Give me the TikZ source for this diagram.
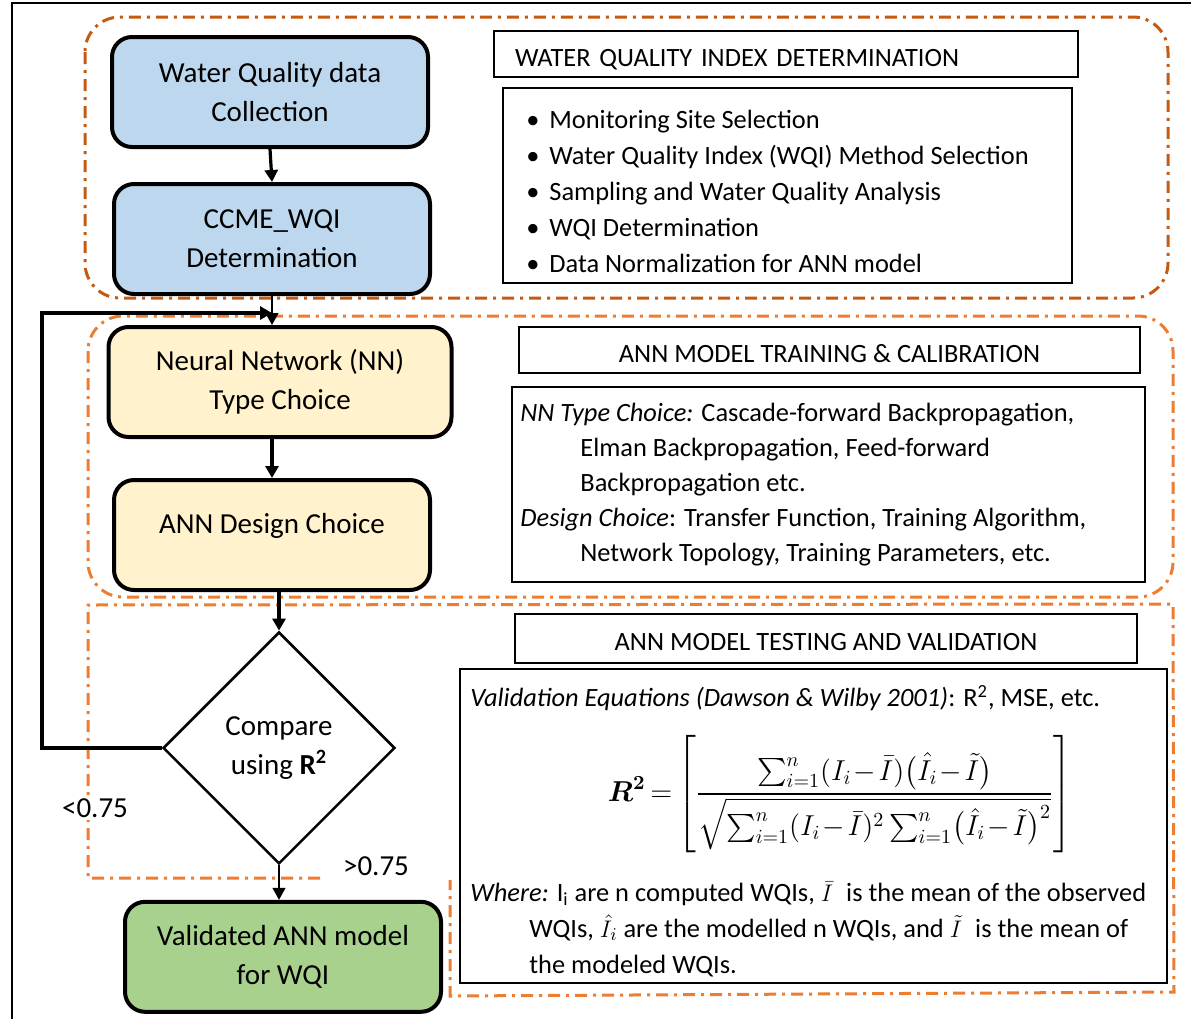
\documentclass[tikz,border=0pt]{standalone}
\usepackage{amsmath,amssymb}
\usepackage{fontspec}
\setmainfont{Carlito}
\usepackage{tikz}
\usetikzlibrary{shapes.geometric,arrows.meta,positioning}

\definecolor{wqiorange}{HTML}{C55A11}
\definecolor{annorange}{HTML}{ED7D31}
\definecolor{wqiblue}{HTML}{BDD7EE}
\definecolor{annyellow}{HTML}{FFF2CC}
\definecolor{valgreen}{HTML}{A9D18E}

\begin{document}
\begin{tikzpicture}[x=0.5pt, y=-0.5pt, >={Triangle[length=6pt,width=6.5pt]},
    flowbox/.style={draw, line width=2pt, rounded corners=10pt, align=center,
                    minimum width=158pt, minimum height=55pt,
                    font=\fontsize{14.5}{19.5}\selectfont},
    headbox/.style={draw, line width=1pt, minimum height=23pt, text height=12pt, text depth=0pt,
                    font=\fontsize{13.2}{15}\selectfont},
    textbox/.style={draw, line width=0.8pt},
    body/.style={align=left, inner sep=0pt, font=\fontsize{13.2}{18}\selectfont},
    region/.style={line width=1.5pt, dash pattern=on 6pt off 3pt on 1.5pt off 3pt},
    flowarrow/.style={->, line width=1.6pt},
    thinarrow/.style={->, line width=0.6pt},
    cutoff/.style={fill=white, inner sep=1pt, font=\fontsize{14.5}{16}\selectfont}
  ]
  \useasboundingbox (0,0) rectangle (1191,1019);

  %--- Outer frame
  \draw[line width=1pt] (12,3) rectangle (1205,1030);

  %--- Stage regions
  \draw[region, wqiorange, rounded corners=17.5pt] (85,17) rectangle (1168,298);
  \draw[region, annorange, rounded corners=17.5pt] (88,316) rectangle (1173,597);
  \draw[region, annorange] (320,878) -- (88,878) -- (88,605) -- (1173,604)
    -- (1174,992) -- (450,996) -- (450,880);

  %--- Flow chart
  \node[flowbox, fill=wqiblue] (collect) at (270,92) {Water Quality data\\Collection};
  \node[flowbox, fill=wqiblue, below=16.5pt of collect, xshift=1pt] (ccme)
    {CCME\_WQI\\Determination};
  \node[flowbox, fill=annyellow, minimum width=171.5pt, below=14.5pt of ccme, xshift=4pt] (nntype)
    {Neural Network (NN)\\Type Choice};
  \node[flowbox, fill=annyellow, below=19.5pt of nntype, xshift=-4pt] (design)
    {ANN Design Choice\\[-8pt]};
  \node[draw, diamond, line width=1.3pt, minimum width=116pt, minimum height=116pt,
        inner sep=0pt, align=center, font=\fontsize{14.5}{19.5}\selectfont,
        below=19.3pt of design, xshift=3.5pt] (compare)
    {Compare\\using \textbf{R\textsuperscript{2}}};
  \node[flowbox, fill=valgreen, below=17.3pt of compare, xshift=2pt] (valid)
    {Validated ANN model\\for WQI};

  \coordinate (loop) at (42,313);
  \coordinate (join) at (ccme.south |- loop);

  \draw[flowarrow] (collect.south) -- (ccme.north);
  \draw[thinarrow] (ccme.south) -- (ccme.south |- nntype.north);
  \draw[flowarrow] (compare.west) -| (loop) -- (join);
  \draw[flowarrow] (design.north |- nntype.south) -- (design.north);
  \draw[flowarrow] (compare.north |- design.south) -- (compare.north);
  \draw[thinarrow] (compare.south) -- (compare.south |- valid.north);

  \node[cutoff] (low) at (95,808) {<0.75};
  \node[cutoff] (high) at (376,866) {>0.75};

  %--- Water quality index determination
  \node[headbox, minimum width=292pt, text width=271pt, inner xsep=10.5pt, align=left]
    (wqihead) at (786,54) {WATER QUALITY INDEX DETERMINATION};
  \node[textbox, minimum width=284.5pt, minimum height=97.5pt] (wqibox) at (787.5,185.5) {};
  \node[body, anchor=west] (wqilist) at (526,191) {%
    \makebox[11.5pt][l]{\textbullet}Monitoring Site Selection\\
    \makebox[11.5pt][l]{\textbullet}Water Quality Index (WQI) Method Selection\\
    \makebox[11.5pt][l]{\textbullet}Sampling and Water Quality Analysis\\
    \makebox[11.5pt][l]{\textbullet}WQI Determination\\
    \makebox[11.5pt][l]{\textbullet}Data Normalization for ANN model};

  %--- ANN model training & calibration
  \node[headbox, minimum width=310.5pt] (annhead) at (829.5,350)
    {ANN MODEL TRAINING \& CALIBRATION};
  \node[textbox, minimum width=316.5pt, minimum height=97.5pt] (annbox) at (828.5,484.5) {};
  \node[body, anchor=west, font=\fontsize{13.2}{17.5}\selectfont] (anntext) at (520,485) {%
    \textit{NN Type Choice:} Cascade-forward Backpropagation,\\
    \hspace*{30pt}Elman Backpropagation, Feed-forward\\
    \hspace*{30pt}Backpropagation etc.\\
    \textit{Design Choice}: Transfer Function, Training Algorithm,\\
    \hspace*{30pt}Network Topology, Training Parameters, etc.};

  %--- ANN model testing and validation
  \node[headbox, minimum width=311pt, minimum height=24.5pt] (valhead) at (826,638.5)
    {ANN MODEL TESTING AND VALIDATION};
  \node[textbox, minimum width=353.5pt, minimum height=157pt] (valbox) at (813.5,826) {};
  \node[body, anchor=west] (valref) at (470,698)
    {\textit{Validation Equations (Dawson \& Wilby 2001)}: R\textsuperscript{2}, MSE, etc.};
  \node[font=\fontsize{14}{16}\selectfont, inner sep=0pt] (valeq) at (840,794)
    {\medmuskip=1.5mu\thinmuskip=1mu\thickmuskip=3mu$\displaystyle
    \boldsymbol{R^{2}} = \left[\frac{\sum\nolimits_{i=1}^{n}(I_i-\bar{I})\bigl(\hat{I}_i-\tilde{I}\bigr)}
    {\sqrt{\sum\nolimits_{i=1}^{n}(I_i-\bar{I})^{2}\mkern2mu\sum\nolimits_{i=1}^{n}\bigl(\hat{I}_i-\tilde{I}\bigr)^{2}}}\right]$};
  \node[body, anchor=west] (valwhere) at (470,929) {%
    \textit{Where:} I\textsubscript{i} are n computed WQIs, $\bar{I}$\enspace is the mean of the observed\\
    \hspace*{29.5pt}WQIs, $\hat{I}_i$ are the modelled n WQIs, and $\tilde{I}$\enspace is the mean of\\
    \hspace*{29.5pt}the modeled WQIs.};

\end{tikzpicture}
\end{document}
